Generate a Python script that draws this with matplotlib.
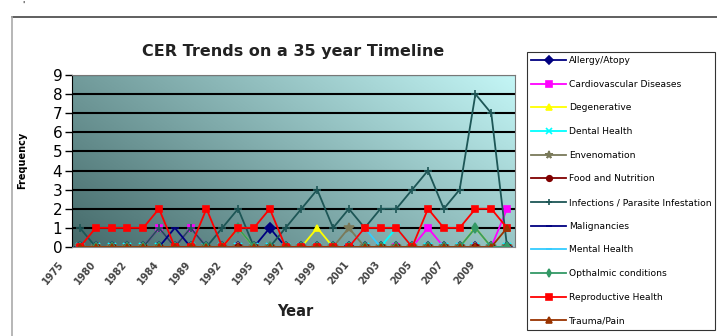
import numpy as np
import matplotlib.pyplot as plt
import matplotlib.transforms as mtransforms
from matplotlib.lines import Line2D

# ---- data ----
years = ['1975', '1979', '1980', '1981', '1982', '1983', '1984', '1988', '1989', '1990',
         '1992', '1993', '1995', '1996', '1997', '1998', '1999', '2000', '2001', '2002',
         '2003', '2004', '2005', '2006', '2007', '2008', '2009', '2010']

allergy       = [0,0,0,0,0,0,0,0,0,0,0,0,1,0,0,0,0,0,0,0,0,0,0,0,0,0,0,0]
cardio        = [0,0,0,0,0,1,0,1,0,0,0,0,0,0,0,0,0,0,0,0,0,0,1,0,0,0,0,2]
degenerative  = [0,0,0,0,0,0,0,0,0,0,1,0,0,0,0,1,0,0,0,0,0,0,0,0,0,1,0,0]
dental        = [0,0,0,0,0,0,0,0,0,0,0,0,0,0,0,0,0,0,0,0,1,0,0,0,0,0,0,0]
envenomation  = [0,0,0,0,0,0,0,0,0,0,0,0,0,0,0,0,0,1,0,0,0,0,0,0,0,0,0,0]
food          = [0,0,0,0,0,0,0,0,0,0,0,0,0,0,0,0,0,0,0,0,0,0,0,0,0,0,0,0]
infections    = [1,0,0,0,0,1,0,1,0,1,2,0,0,1,2,3,1,2,1,2,2,3,4,2,3,8,7,0]
malignancies  = [0,0,0,0,0,0,1,0,0,0,0,0,0,0,0,0,0,0,0,0,0,0,0,0,0,0,0,0]
mental        = [0,0,0,0,0,0,0,0,0,0,0,0,0,0,0,0,0,0,1,0,0,0,0,0,0,0,0,0]
opthalmic     = [0,0,0,0,0,0,0,0,0,0,1,0,0,0,0,0,0,0,0,0,0,0,0,0,0,1,0,0]
reproductive  = [0,1,1,1,1,2,0,0,2,0,1,1,2,0,0,0,0,0,1,1,1,0,2,1,1,2,2,1]
trauma        = [0,0,0,0,0,0,0,0,0,0,0,0,0,0,0,0,0,0,0,0,0,0,0,0,0,0,0,1]

series = [
    ('Allergy/Atopy', allergy, '#000080', 'D'),
    ('Cardiovascular Diseases', cardio, '#FF00FF', 's'),
    ('Degenerative', degenerative, '#FFFF00', '^'),
    ('Dental Health', dental, '#00FFFF', 'x'),
    ('Envenomation', envenomation, '#7a7a5a', '*'),
    ('Food and Nutrition', food, '#800000', 'o'),
    ('Infections / Parasite Infestation', infections, '#1d5656', '+'),
    ('Malignancies', malignancies, '#000080', '_'),
    ('Mental Health', mental, '#33CCFF', '_'),
    ('Opthalmic conditions', opthalmic, '#339966', 'd'),
    ('Reproductive Health', reproductive, '#FF0000', 's'),
    ('Trauma/Pain', trauma, '#993300', '^'),
]

W, H = 717, 336
fig = plt.figure(figsize=(W / 100, H / 100), dpi=100)
fig.patch.set_facecolor('white')

# outer chart frame
fig.add_artist(Line2D([12 / W, 1], [1 - 17 / H, 1 - 17 / H], color='#444444', lw=1.2))
fig.add_artist(Line2D([12 / W, 12 / W], [0, 1 - 17 / H], color='#aaaaaa', lw=1.2))
fig.text(23 / W, 1 - 5 / H, "'", fontsize=6, ha='center', va='center')

ax = fig.add_axes([72 / W, 1 - 247 / H, (515 - 72) / W, (247 - 75) / H])

# gradient background: dark grey-teal lower left -> light cyan upper right
nx, ny = 200, 100
gx, gy = np.meshgrid(np.linspace(0, 1, nx), np.linspace(0, 1, ny))
t = np.clip(0.65 * gx + 0.35 * gy, 0, 1)
c0 = np.array([0x45, 0x6a, 0x6a]) / 255
c1 = np.array([0xc4, 0xf6, 0xf6]) / 255
img = c0[None, None, :] * (1 - t[..., None]) + c1[None, None, :] * t[..., None]
ax.imshow(img, extent=[-0.5, 27.5, 0, 9], origin='lower', aspect='auto', zorder=0)

for yv in range(1, 10):
    ax.axhline(yv, color='black', lw=1.5, zorder=1)

x = np.arange(len(years))
for name, vals, col, mk in series:
    ms = 5
    if mk in ('x', '+', '_'):
        ms = 6
    if mk == '*':
        ms = 7
    ax.plot(x, vals, color=col, lw=1.3, marker=mk, ms=ms, mec=col, mfc=col,
            mew=1.2, label=name, zorder=2)

ax.set_xlim(-0.5, 27.5)
ax.set_ylim(0, 9)
ax.set_yticks(range(10))
ax.tick_params(axis='y', labelsize=11, length=5, width=1, pad=2)
ax.set_xticks(x[::2])
ax.set_xticklabels(years[::2], rotation=50, ha='right', va='top', fontsize=7,
                   fontweight='bold', color='#444444')
ax.tick_params(axis='x', length=0, pad=0)
# Excel places the rotated labels a bit left of and below the category
offset = mtransforms.ScaledTranslation(-14 / 100, -12 / 100, fig.dpi_scale_trans)
for lab in ax.get_xticklabels():
    lab.set_transform(lab.get_transform() + offset)
for sp in ['top', 'right']:
    ax.spines[sp].set_color('#777777')
ax.spines['left'].set_color('black')
ax.spines['bottom'].set_color('#888888')

ax.set_title('CER Trends on a 35 year Timeline', fontsize=11.5, fontweight='bold',
             color='#222222', pad=14)
fig.text(295 / W, 1 - 312 / H, 'Year', fontsize=10.5, fontweight='bold',
         color='#222222', ha='center', va='center')
fig.text(22 / W, 1 - 160 / H, 'Frequency', rotation=90, fontsize=7, fontweight='bold',
         ha='center', va='center')

leg = fig.legend(loc='upper left', bbox_to_anchor=(527 / W, 1 - 52 / H),
                 fontsize=6.6, frameon=True, fancybox=False, edgecolor='black',
                 handlelength=3.8, handletextpad=0.3, labelspacing=1.6,
                 borderpad=0.45, borderaxespad=0, markerscale=0.8)
leg.get_frame().set_linewidth(0.8)

fig.savefig('out.png', dpi=100)
